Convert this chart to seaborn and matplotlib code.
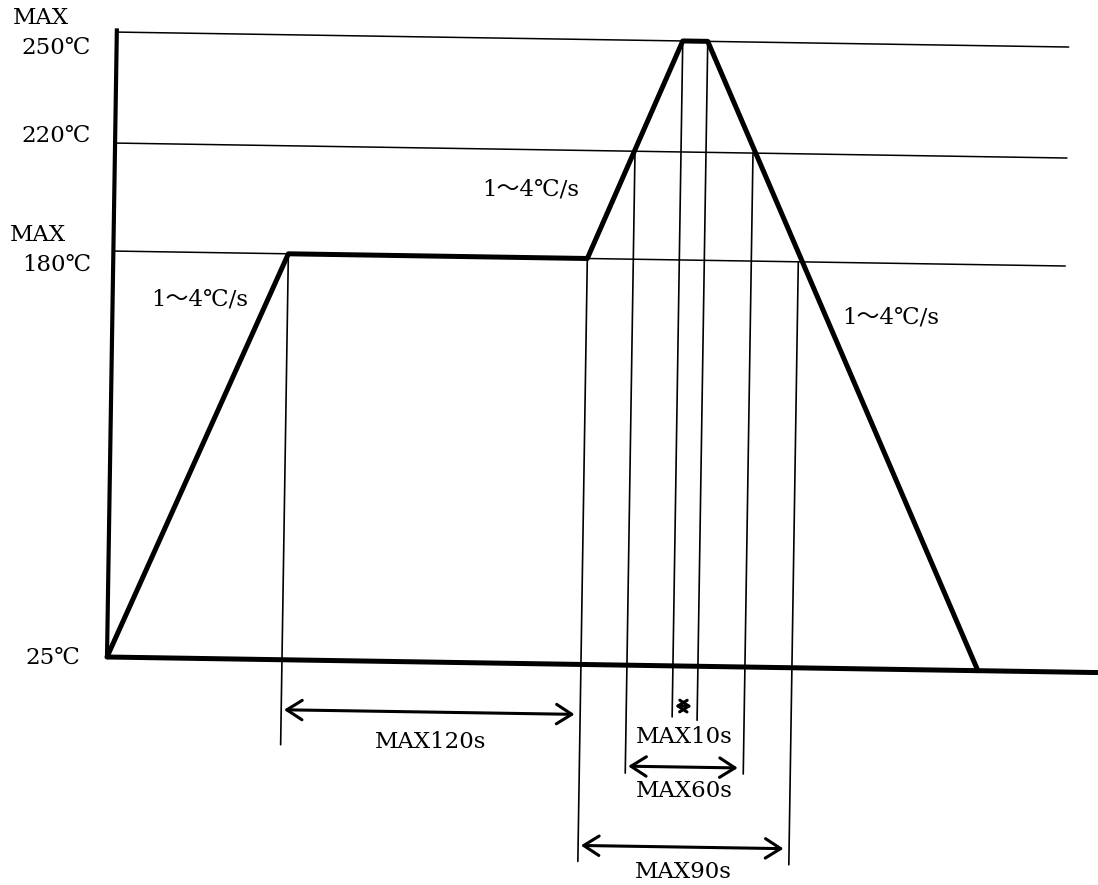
import numpy as np
import matplotlib
matplotlib.use("Agg")
import matplotlib.pyplot as plt
import matplotlib.transforms as mtransforms
import seaborn as sns

# ---------------- data (schematic reflow profile) ----------------
profile_time = [0, 175, 474, 566, 591, 871]          # schematic time units
profile_temp = [25, 180, 180, 250, 250, 25]          # degC

level_temps = [180, 220, 250]                        # guide lines
level_end = 952

# vertical marker lines: time, temperature where they start
marker_times = [175, 474, 520, 566, 591, 638, 685]
marker_temps = [180, 180, 220, 250, 250, 220, 180]
marker_drop = [85, 197, 108, 51, 54, 107, 197]       # how far below baseline (px)

# time spans
span_start = [175, 566, 520, 474]
span_end = [474, 591, 638, 685]
span_labels = ["MAX120s", "MAX10s", "MAX60s", "MAX90s"]
span_arrow_drop = [50, 40, 101, 181]
span_label_drop = [80, 71, 125, 206]

slope_label = "1～4℃/s"
slope_pos = [(200, 300), (531, 190), (891, 318)]     # image px (centre)

ylabels = ["MAX", "250℃", "220℃", "MAX", "180℃", "25℃"]
ylabel_pos = [(13, 18, "left"), (91, 48, "right"), (91, 136, "right"),
              (10, 235, "left"), (91, 265, "right"), (80, 658, "right")]

# ---------------- style ----------------
sns.set_theme(style="white")
plt.rcParams["font.family"] = ["DejaVu Serif", "Noto Sans CJK JP", "DejaVu Sans"]

W, H = 1098, 885
fig = plt.figure(figsize=(W / 100, H / 100), dpi=100)
ax = fig.add_axes([0, 0, 1, 1])

# schematic (non-linear) temperature scale
knot_t = np.array([-100.0, 25, 180, 220, 250, 400])
knot_h = np.array([-327.5, 0, 406, 514, 625, 1180])
fwd = lambda t: np.interp(t, knot_t, knot_h)
inv = lambda h: np.interp(h, knot_h, knot_t)
ax.set_yscale("function", functions=(fwd, inv))
ax.set_xlim(-107, W - 107)
ax.set_ylim(float(inv(-228)), float(inv(H - 228)))
ax.axis("off")

# slight scan rotation around the origin
rot = mtransforms.Affine2D().rotate_deg_around(107, 228, -0.9)
T = ax.transData + rot


def T_off(dy):
    return mtransforms.offset_copy(ax.transData, fig=fig, x=0, y=-dy, units="dots") + rot


black = "#000000"

# left axis and baseline
ax.plot([0, 0], [25, 251], color=black, lw=3.0, transform=T, solid_capstyle="butt")
ax.plot([0, 1010], [25, 25], color=black, lw=3.6, transform=T, solid_capstyle="butt")

# guide lines
for lt in level_temps:
    ax.plot([0, level_end], [lt, lt], color=black, lw=1.1, transform=T)

# profile
sns.lineplot(x=profile_time, y=profile_temp, sort=False, ax=ax, color=black,
             lw=3.6, transform=T, legend=False)
ax.set_xlabel("")
ax.set_ylabel("")

# vertical marker lines
for t, tp, d in zip(marker_times, marker_temps, marker_drop):
    ax.annotate("", xy=(t, tp), xycoords=T, xytext=(t, 25), textcoords=T_off(d),
                arrowprops=dict(arrowstyle="-", lw=1.2, color=black,
                                shrinkA=0, shrinkB=0))

# span arrows and labels
for s, e, lab, ad, ld in zip(span_start, span_end, span_labels,
                             span_arrow_drop, span_label_drop):
    ms = 12 if e - s < 40 else 20
    ax.annotate("", xy=(e, 25), xycoords=T_off(ad), xytext=(s, 25), textcoords=T_off(ad),
                arrowprops=dict(arrowstyle="<->,head_length=0.55,head_width=0.35",
                                lw=2.2, color=black, mutation_scale=ms,
                                shrinkA=2, shrinkB=4))
    ax.text((s + e) / 2, 25, lab, transform=T_off(ld), ha="center", va="center",
            fontsize=16.5, color=black)

# slope labels
for (px, py) in slope_pos:
    ax.text(px / W, 1 - py / H, slope_label, transform=ax.transAxes,
            ha="center", va="center", fontsize=16.5, color=black)

# y labels
for lab, (px, py, ha) in zip(ylabels, ylabel_pos):
    ax.text(px / W, 1 - py / H, lab, transform=ax.transAxes,
            ha=ha, va="center", fontsize=16.5, color=black)

fig.savefig("out.png", dpi=100, facecolor="white")
